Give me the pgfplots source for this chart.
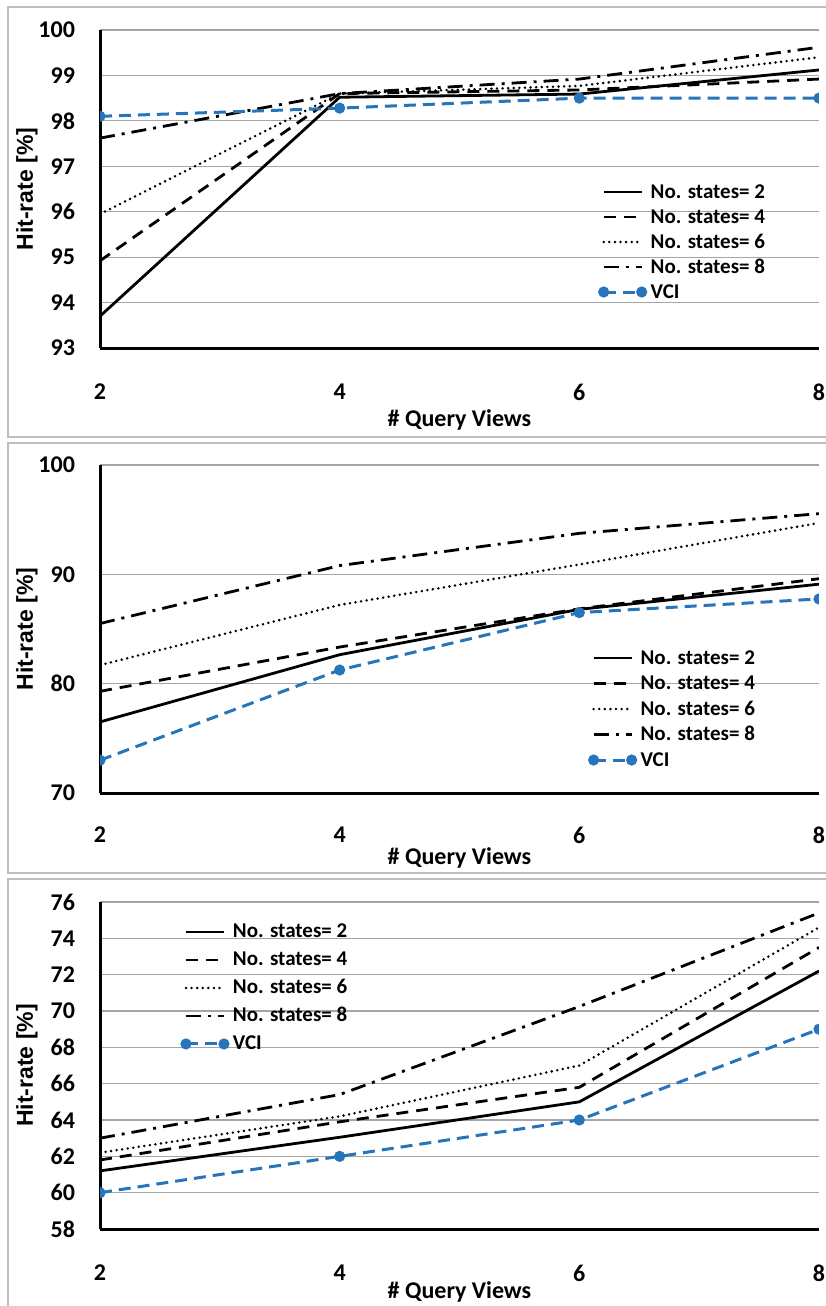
\documentclass[border=0pt]{standalone}
\usepackage{fontspec}
\setmainfont{Carlito}
\newfontfamily\arialfont{Liberation Sans}
\usepackage{pgfplots}
\pgfplotsset{compat=1.18}
\definecolor{vciblue}{RGB}{38,117,186}
\definecolor{framegray}{RGB}{190,190,190}
\definecolor{gridgray}{RGB}{165,165,165}
\pgfplotsset{
  panel/.style={
    scale only axis, width=359.5pt,
    xmin=2, xmax=8, xtick={2,4,6,8},
    axis lines=left, axis line style={-, line width=1.5pt, black},
    ymajorgrids, major grid style={gridgray, line width=0.6pt},
    major tick length=0pt,
    tick label style={font=\bfseries\fontsize{12}{14}\selectfont},
    /pgf/number format/assume math mode=true,
    xticklabel style={anchor=center, yshift=-22pt},
    yticklabel style={xshift=-9pt},
    xlabel={\# Query Views},
    xlabel style={font=\bfseries\fontsize{12}{14}\selectfont, anchor=center},
    ylabel={Hit-rate [\%]},
    ylabel style={font=\arialfont\bfseries\fontsize{11.5}{13}\selectfont, at={(axis description cs:-0.1015,0.5)}, anchor=center},
    clip marker paths=true,
    legend cell align=left,
    legend style={draw=none, fill=none, inner sep=0pt, outer sep=0pt, anchor=north west,
      font=\bfseries\fontsize{10.5}{12}\selectfont,
      nodes={inner sep=0pt, text height=8pt, text depth=2pt},
      /tikz/column sep=2.5pt},
    legend image code/.code={\draw[#1] (0pt,0pt) -- (19pt,0pt);},
  },
  s2/.style={black, line width=1.4pt, solid},
  s4/.style={black, line width=1.4pt, dash pattern=on 6pt off 4pt},
  s6/.style={black, line width=1.4pt, line cap=round, dash pattern=on 0pt off 2.8pt},
  s8/.style={black, line width=1.4pt, dash pattern=on 7.5pt off 3.5pt on 1.5pt off 3.5pt},
  vci/.style={vciblue, line width=1.5pt, dash pattern=on 6pt off 3.5pt, mark=*, mark size=2pt,
    mark options={solid, fill=vciblue, draw=vciblue},
    legend image code/.code={\draw[##1] plot coordinates {(0pt,0pt) (19pt,0pt)};}},
}
\begin{document}
\begin{tikzpicture}
\path[use as bounding box] (0pt,0pt) rectangle (412.5pt,-653pt);
\draw[framegray, line width=1pt] (4pt,-3.5pt) rectangle (420pt,-218.5pt);
\draw[framegray, line width=1pt] (4pt,-221.5pt) rectangle (420pt,-436.5pt);
\draw[framegray, line width=1pt] (4pt,-439.5pt) rectangle (420pt,-660pt);

% Panel 1
\begin{axis}[panel, at={(50pt,-174pt)}, anchor=south west, height=159pt,
  ymin=93, ymax=100, ytick={93,94,...,100},
  xlabel style={at={(axis description cs:0.5,-0.2264)}},
  legend style={at={(0.695,0.522)}, /tikz/row sep=2.5pt}]
\addplot[s2] coordinates {(2,93.7) (4,98.52) (6,98.59) (8,99.12)};
\addlegendentry{No. states= 2}
\addplot[s4] coordinates {(2,94.92) (4,98.6) (6,98.68) (8,98.92)};
\addlegendentry{No. states= 4}
\addplot[s6] coordinates {(2,95.95) (4,98.6) (6,98.77) (8,99.4)};
\addlegendentry{No. states= 6}
\addplot[s8] coordinates {(2,97.62) (4,98.6) (6,98.92) (8,99.62)};
\addlegendentry{No. states= 8}
\addplot[vci] coordinates {(2,98.1) (4,98.28) (6,98.5) (8,98.5)};
\addlegendentry{VCI}
\end{axis}

% Panel 2
\begin{axis}[panel, at={(50pt,-396.5pt)}, anchor=south west, height=164pt,
  ymin=70, ymax=100, ytick={70,80,90,100},
  xticklabel style={yshift=1pt},
  xlabel style={at={(axis description cs:0.5,-0.198)}},
  legend style={at={(0.681,0.442)}, /tikz/row sep=2.75pt}]
\addplot[s2] coordinates {(2,76.5) (4,82.65) (6,86.8) (8,89.1)};
\addlegendentry{No. states= 2}
\addplot[s4] coordinates {(2,79.3) (4,83.35) (6,86.85) (8,89.6)};
\addlegendentry{No. states= 4}
\addplot[s6] coordinates {(2,81.7) (4,87.2) (6,90.9) (8,94.7)};
\addlegendentry{No. states= 6}
\addplot[s8] coordinates {(2,85.5) (4,90.8) (6,93.75) (8,95.55)};
\addlegendentry{No. states= 8}
\addplot[vci] coordinates {(2,73.0) (4,81.25) (6,86.5) (8,87.75)};
\addlegendentry{VCI}
\end{axis}

% Panel 3
\begin{axis}[panel, at={(50pt,-614.5pt)}, anchor=south west, height=163.5pt,
  ymin=58, ymax=76, ytick={58,60,...,76},
  xlabel style={at={(axis description cs:0.5,-0.193)}},
  legend style={at={(0.114,0.939)}, /tikz/row sep=4pt}]
\addplot[s2] coordinates {(2,61.2) (4,63.05) (6,65.0) (8,72.2)};
\addlegendentry{No. states= 2}
\addplot[s4] coordinates {(2,61.8) (4,63.9) (6,65.8) (8,73.5)};
\addlegendentry{No. states= 4}
\addplot[s6] coordinates {(2,62.2) (4,64.2) (6,67.0) (8,74.6)};
\addlegendentry{No. states= 6}
\addplot[s8] coordinates {(2,63.0) (4,65.4) (6,70.25) (8,75.4)};
\addlegendentry{No. states= 8}
\addplot[vci] coordinates {(2,60.0) (4,62.0) (6,64.0) (8,69.0)};
\addlegendentry{VCI}
\end{axis}
\end{tikzpicture}
\end{document}
